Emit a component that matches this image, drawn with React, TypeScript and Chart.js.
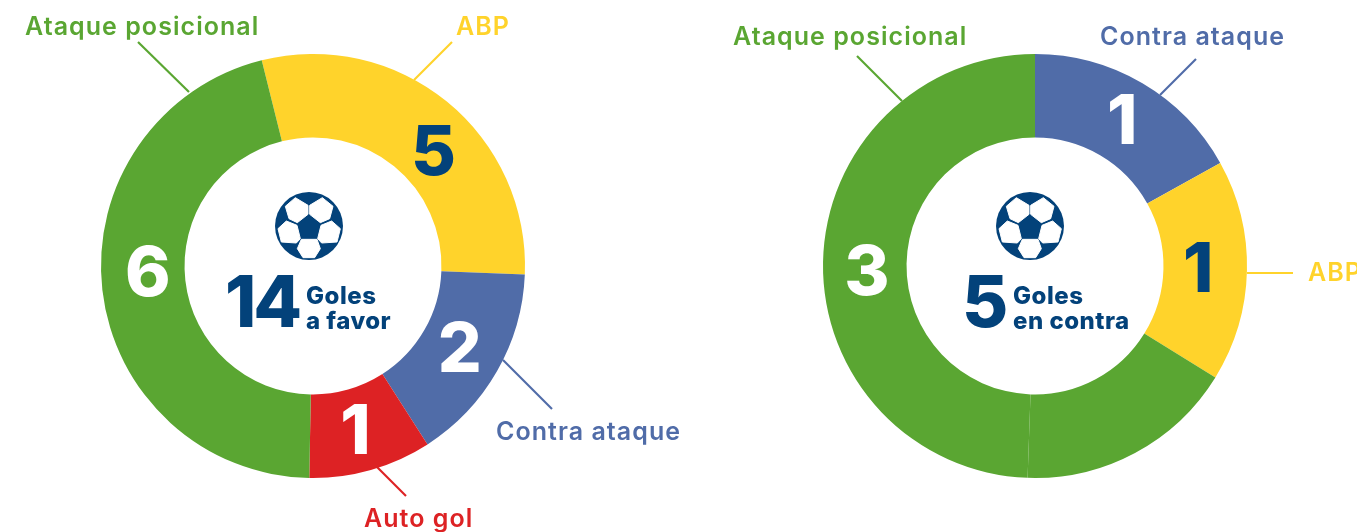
import React, { useEffect, useRef } from "react";
import { Chart, registerables } from "chart.js";

Chart.register(...registerables);

const GREEN = "#5AA632";
const YELLOW = "#FFD32B";
const BLUE = "#506CA8";
const RED = "#DD2224";
const NAVY = "#03427A";
const FONT = "Inter, 'Noto Sans', sans-serif";

// left chart
const favorCategories = ["ABP", "Contra ataque", "Auto gol", "Ataque posicional"];
const favorShares = [106.3, 55, 33.7, 165];
const favorGoals = [5, 2, 1, 6];
const favorColors = [YELLOW, BLUE, RED, GREEN];
// right chart
const contraCategories = ["Contra ataque", "ABP", "Ataque posicional", "Ataque posicional"];
const contraShares = [60.9, 60.8, 60.3, 178];
const contraGoals = ["1", "1", "", "3"];
const contraColors = [BLUE, YELLOW, GREEN, GREEN];

type Callout = { text: string; color: string; x1: number; y1: number; x2: number; y2: number; tx: number; ty: number };

const favorCallouts: Callout[] = [
  { text: favorCategories[3], color: GREEN, x1: 189, y1: 92, x2: 138, y2: 42, tx: 25, ty: 27 },
  { text: favorCategories[0], color: YELLOW, x1: 414, y1: 80, x2: 452, y2: 42, tx: 456, ty: 27 },
  { text: favorCategories[1], color: BLUE, x1: 503, y1: 360, x2: 552, y2: 409, tx: 496, ty: 432 },
  { text: favorCategories[2], color: RED, x1: 377, y1: 467, x2: 406, y2: 496, tx: 364, ty: 519 },
];
const contraCallouts: Callout[] = [
  { text: contraCategories[2], color: GREEN, x1: 902, y1: 101, x2: 857, y2: 56, tx: 733, ty: 37 },
  { text: contraCategories[0], color: BLUE, x1: 1160, y1: 95, x2: 1196, y2: 59, tx: 1100, ty: 37 },
  { text: contraCategories[1], color: YELLOW, x1: 1247, y1: 273, x2: 1293, y2: 273, tx: 1308, ty: 273 },
];

const favorOffsets = [[13, 20], [-1, 1], [-4, 3], [4, -10]];
const contraOffsets = [[1, 4], [-7, 1], [0, 0], [2, 11]];

function drawBall(ctx: CanvasRenderingContext2D, cx: number, cy: number) {
  const patches = [
    [[347, 82], [385, 105], [385, 132], [353, 157], [328, 145], [317, 108]],
    [[428, 82], [390, 105], [390, 132], [422, 157], [450, 145], [460, 108]],
    [[320, 152], [352, 165], [362, 205], [350, 218], [305, 215], [295, 175]],
    [[456, 152], [424, 165], [414, 205], [426, 218], [472, 215], [482, 175]],
    [[365, 207], [412, 207], [422, 235], [405, 262], [370, 262], [353, 235]],
  ];
  ctx.fillStyle = NAVY;
  ctx.beginPath();
  ctx.arc(cx, cy, 34, 0, Math.PI * 2);
  ctx.fill();
  ctx.fillStyle = "#fff";
  ctx.strokeStyle = "#fff";
  ctx.lineWidth = 1;
  ctx.lineJoin = "round";
  for (const p of patches) {
    ctx.beginPath();
    p.forEach(([x, y], i) => {
      const px = cx + (x - 388) / 3;
      const py = cy + (y - 167) / 3;
      if (i === 0) ctx.moveTo(px, py);
      else ctx.lineTo(px, py);
    });
    ctx.closePath();
    ctx.fill();
    ctx.stroke();
  }
}

function makeChart(
  canvas: HTMLCanvasElement,
  originX: number,
  cfg: {
    labels: string[];
    shares: number[];
    colors: string[];
    goals: (string | number)[];
    offsets: number[][];
    callouts: Callout[];
    padding: { left: number; right: number; top: number; bottom: number };
    rotation: number;
    ballX: number;
    total: string;
    totalX: number;
    line1: string;
    line2: string;
    textX: number;
  }
) {
  const overlay = {
    id: "overlay",
    afterDraw(chart: any) {
      const ctx: any = chart.ctx;
      ctx.save();
      ctx.textBaseline = "middle";
      // callouts
      for (const c of cfg.callouts) {
        ctx.strokeStyle = c.color;
        ctx.lineWidth = 2.2;
        ctx.beginPath();
        ctx.moveTo(c.x1 - originX, c.y1);
        ctx.lineTo(c.x2 - originX, c.y2);
        ctx.stroke();
        ctx.fillStyle = c.color;
        ctx.font = `600 25px ${FONT}`;
        ctx.letterSpacing = "1.05px";
        ctx.textAlign = "left";
        ctx.fillText(c.text, c.tx - originX, c.ty);
      }
      ctx.letterSpacing = "0px";
      // values on the ring
      const arcs = chart.getDatasetMeta(0).data;
      ctx.textAlign = "center";
      arcs.forEach((arc: any, i: number) => {
        const g = cfg.goals[i];
        if (g === "") return;
        const p = arc.getCenterPoint();
        ctx.font = `800 69px ${FONT}`;
        ctx.fillStyle = cfg.colors[i] === YELLOW ? NAVY : "#fff";
        ctx.fillText(String(g), p.x + cfg.offsets[i][0], p.y + cfg.offsets[i][1]);
      });
      // centre
      drawBall(ctx, cfg.ballX - originX, 226);
      ctx.fillStyle = NAVY;
      ctx.textAlign = "left";
      ctx.font = `800 71px ${FONT}`;
      ctx.letterSpacing = "-3px";
      ctx.fillText(cfg.total, cfg.totalX - originX, 306);
      ctx.font = `800 24px ${FONT}`;
      ctx.letterSpacing = "0.5px";
      ctx.fillText(cfg.line1, cfg.textX - originX, 297);
      ctx.fillText(cfg.line2, cfg.textX - originX, 322);
      ctx.letterSpacing = "0px";
      ctx.restore();
    },
  };
  return new Chart(canvas, {
    type: "doughnut",
    data: {
      labels: cfg.labels,
      datasets: [{ data: cfg.shares, backgroundColor: cfg.colors, borderWidth: 0 }],
    },
    options: {
      animation: false,
      responsive: false,
      cutout: "60.6%",
      rotation: cfg.rotation,
      layout: { padding: cfg.padding },
      plugins: { legend: { display: false }, tooltip: { enabled: false } },
    },
    plugins: [overlay],
  } as any);
}

export default function App() {
  const leftRef = useRef<HTMLCanvasElement>(null);
  const rightRef = useRef<HTMLCanvasElement>(null);
  useEffect(() => {
    const a = makeChart(leftRef.current!, 0, {
      labels: favorCategories,
      shares: favorShares,
      colors: favorColors,
      goals: favorGoals,
      offsets: favorOffsets,
      callouts: favorCallouts,
      padding: { left: 101, right: 175, top: 54, bottom: 54 },
      rotation: -14,
      ballX: 309,
      total: "14",
      totalX: 225,
      line1: "Goles",
      line2: "a favor",
      textX: 306,
    });
    const b = makeChart(rightRef.current!, 700, {
      labels: contraCategories,
      shares: contraShares,
      colors: contraColors,
      goals: contraGoals,
      offsets: contraOffsets,
      callouts: contraCallouts,
      padding: { left: 123, right: 110, top: 54, bottom: 54 },
      rotation: 0,
      ballX: 1030,
      total: "5",
      totalX: 962,
      line1: "Goles",
      line2: "en contra",
      textX: 1013,
    });
    return () => {
      a.destroy();
      b.destroy();
    };
  }, []);
  return (
    <div style={{ position: "fixed", left: 0, top: 0, width: 1357, height: 532, overflow: "hidden", background: "#fff" }}>
      <canvas ref={leftRef} width={700} height={532} style={{ position: "absolute", left: 0, top: 0, width: 700, height: 532 }} />
      <canvas ref={rightRef} width={657} height={532} style={{ position: "absolute", left: 700, top: 0, width: 657, height: 532 }} />
    </div>
  );
}
